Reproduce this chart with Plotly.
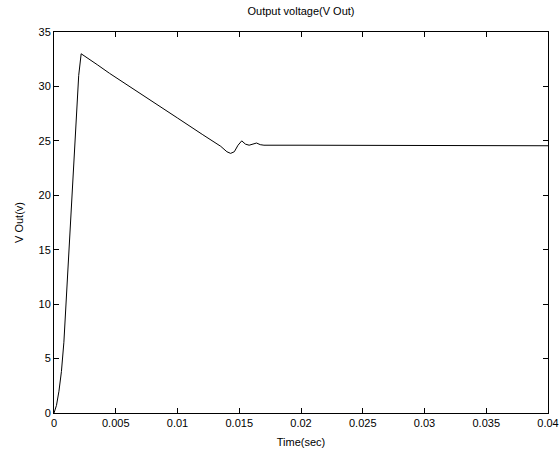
import plotly.graph_objects as go

time_s = [0, 0.0002, 0.0004, 0.0006, 0.0008, 0.001, 0.0012, 0.0014, 0.0016, 0.0018,
          0.002, 0.0022, 0.0028, 0.0035, 0.0045, 0.006, 0.008, 0.010, 0.012, 0.0135,
          0.0140, 0.0143, 0.0146, 0.0149, 0.0152, 0.0155, 0.0158, 0.0161, 0.0164,
          0.0167, 0.017, 0.02, 0.025, 0.03, 0.035, 0.04]
v_out = [0, 0.7, 2.0, 3.8, 6.5, 10.8, 15.0, 19.0, 23.0, 27.5,
         31.0, 33.0, 32.5, 32.0, 31.2, 30.1, 28.6, 27.1, 25.6, 24.5,
         24.0, 23.85, 24.0, 24.6, 25.0, 24.7, 24.6, 24.7, 24.8,
         24.65, 24.6, 24.6, 24.6, 24.58, 24.56, 24.55]

x_ticks = [0, 0.005, 0.01, 0.015, 0.02, 0.025, 0.03, 0.035, 0.04]
x_tick_text = ["0", "0.005", "0.01", "0.015", "0.02", "0.025", "0.03", "0.035", "0.04"]
y_ticks = [0, 5, 10, 15, 20, 25, 30, 35]

fig = go.Figure()
fig.add_trace(go.Scatter(x=time_s, y=v_out, mode="lines",
                         line=dict(color="black", width=1), showlegend=False))

font = dict(family="Liberation Sans, Arial, sans-serif", size=11, color="black")
fig.update_layout(
    width=560, height=459,
    margin=dict(l=54, r=12, t=32, b=46, autoexpand=False),
    paper_bgcolor="white", plot_bgcolor="white",
    font=font,
    title=dict(text="Output voltage(V Out)", xref="paper", x=0.5, xanchor="center",
               yref="container", y=1 - 11 / 459, yanchor="middle", font=dict(size=11)),
    xaxis=dict(range=[0, 0.04], tickvals=x_ticks, ticktext=x_tick_text,
               ticks="inside", ticklen=5, tickcolor="black", mirror="ticks",
               showline=True, linecolor="black", linewidth=1, showgrid=False,
               zeroline=False, automargin=False,
               title=dict(text="Time(sec)", standoff=10, font=dict(size=11))),
    yaxis=dict(range=[0, 35], tickvals=y_ticks,
               ticks="inside", ticklen=5, tickcolor="black", mirror="ticks",
               showline=True, linecolor="black", linewidth=1, showgrid=False,
               zeroline=False, automargin=False,
               title=dict(text="V Out(v)", standoff=12, font=dict(size=11))),
)

fig.write_html("out.html")
